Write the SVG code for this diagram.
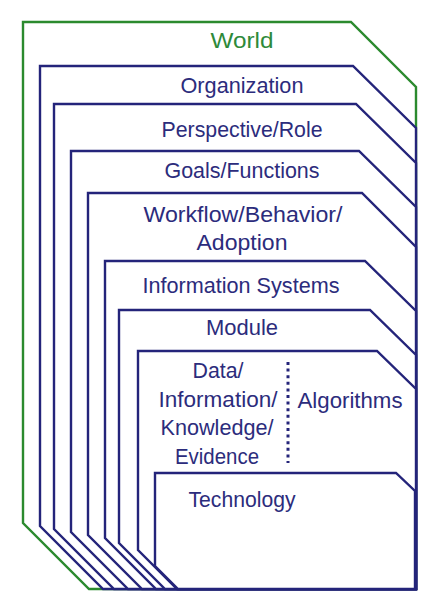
<svg xmlns="http://www.w3.org/2000/svg" width="436" height="597" viewBox="0 0 436 597">
  <style>
    .frame { fill: #ffffff; stroke: #24247a; stroke-width: 2.4; stroke-linejoin: miter; }
    .outer { fill: #ffffff; stroke: #2b8a2e; stroke-width: 2.4; }
    .label { font-family: "Liberation Sans", Arial, sans-serif; font-size: 21.5px; fill: #2c2c7c; text-anchor: middle; }
    .green { fill: #2e8a3a; }
    .dots { stroke: #24247a; stroke-width: 3; stroke-dasharray: 3 3.6; fill: none; }
  </style>
  <rect width="436" height="597" fill="#ffffff"/>

  <!-- nested layers, outermost first -->
  <g id="world">
    <polygon class="outer" points="23,22 351,22 416,87 416,589 89,589 23,523"/>
    <text class="label green" x="242" y="48" textLength="63" lengthAdjust="spacingAndGlyphs">World</text>
  </g>
  <g id="organization">
    <polygon class="frame" points="40,66 353,66 416,128 416,589 103,589 40,526"/>
    <text class="label" x="242" y="93" textLength="123" lengthAdjust="spacingAndGlyphs">Organization</text>
  </g>
  <g id="perspective-role">
    <polygon class="frame" points="54,104 356,104 416,163 416,589 114,589 54,529"/>
    <text class="label" x="242" y="137" textLength="161" lengthAdjust="spacingAndGlyphs">Perspective/Role</text>
  </g>
  <g id="goals-functions">
    <polygon class="frame" points="71,151 359,151 416,207 416,589 128,589 71,532"/>
    <text class="label" x="242" y="178" textLength="155" lengthAdjust="spacingAndGlyphs">Goals/Functions</text>
  </g>
  <g id="workflow">
    <polygon class="frame" points="88,193 362,193 416,247 416,589 142,589 88,535"/>
    <text class="label" x="243" y="222" textLength="199" lengthAdjust="spacingAndGlyphs">Workflow/Behavior/</text>
    <text class="label" x="242" y="250" textLength="91" lengthAdjust="spacingAndGlyphs">Adoption</text>
  </g>
  <g id="information-systems">
    <polygon class="frame" points="105,261 365,261 416,311 416,589 156,589 105,538"/>
    <text class="label" x="241" y="293" textLength="197" lengthAdjust="spacingAndGlyphs">Information Systems</text>
  </g>
  <g id="module">
    <polygon class="frame" points="119,310 370,310 416,355 416,589 165,589 119,543"/>
    <text class="label" x="242" y="335" textLength="72" lengthAdjust="spacingAndGlyphs">Module</text>
  </g>
  <g id="data-algorithms">
    <polygon class="frame" points="138,351 377,351 416,389 416,589 177,589 138,550"/>
    <text class="label" x="218" y="378" textLength="51" lengthAdjust="spacingAndGlyphs">Data/</text>
    <text class="label" x="218" y="407" textLength="119" lengthAdjust="spacingAndGlyphs">Information/</text>
    <text class="label" x="217" y="435" textLength="113" lengthAdjust="spacingAndGlyphs">Knowledge/</text>
    <text class="label" x="217" y="464" textLength="84" lengthAdjust="spacingAndGlyphs">Evidence</text>
    <line class="dots" x1="288" y1="362" x2="288" y2="463"/>
    <text class="label" x="350" y="408" textLength="105" lengthAdjust="spacingAndGlyphs">Algorithms</text>
  </g>
  <g id="technology">
    <polygon class="frame" points="155,473 396,473 415,491 415,589 178,589 155,566"/>
    <text class="label" x="242" y="507" textLength="107" lengthAdjust="spacingAndGlyphs">Technology</text>
  </g>
  <g id="connectors"></g>
</svg>
